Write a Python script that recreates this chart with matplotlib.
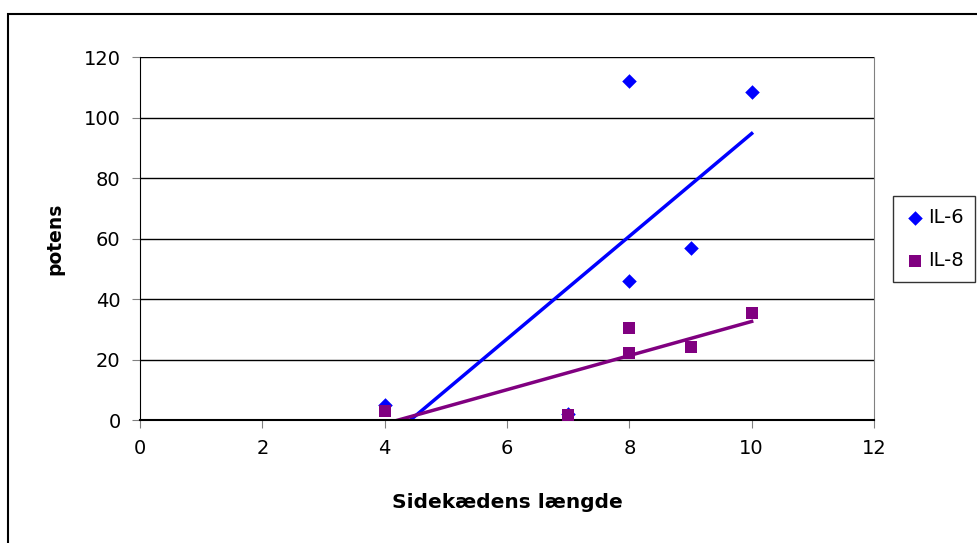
import numpy as np
import matplotlib
matplotlib.use('Agg')
import matplotlib.pyplot as plt
from matplotlib.patches import Rectangle

# data
chain_len = [4, 7, 8, 8, 9, 10]
il6 = [5, 2, 112, 46, 57, 108.5]
il8 = [3, 1.5, 30.5, 22, 24, 35.5]

x_ticks = [0, 2, 4, 6, 8, 10, 12]
y_ticks = [0, 20, 40, 60, 80, 100, 120]

blue = '#0000FF'
purple = '#800080'

plt.rcParams['font.family'] = ['DejaVu Sans']

fig = plt.figure(figsize=(9.77, 5.43), dpi=100)
ax = fig.add_axes([140/977, 1 - 420/543, (874 - 140)/977, (420 - 57)/543])

# outer chart frame
fig.patches.append(Rectangle((8/977, -0.1), 1.2, (543 - 14)/543 + 0.1, transform=fig.transFigure,
                             fill=False, edgecolor='black', linewidth=1.5))

# linear trendlines
xs = np.array([min(chain_len), max(chain_len)])
for ys, col in [(il6, blue), (il8, purple)]:
    k, m = np.polyfit(chain_len, ys, 1)
    ax.plot(xs, k*xs + m, color=col, linewidth=2.5, zorder=2)

ax.scatter(chain_len, il6, marker='D', s=55, color=blue, label='IL-6', zorder=3, linewidths=0)
ax.scatter(chain_len, il8, marker='s', s=85, color=purple, label='IL-8', zorder=4, linewidths=0)

ax.set_xlim(0, 12)
ax.set_ylim(0, 120)
ax.set_xticks(x_ticks)
ax.set_yticks(y_ticks)
ax.yaxis.grid(True, color='black', linewidth=1)
ax.set_axisbelow(True)

ax.spines['top'].set_visible(False)
ax.spines['right'].set_color('#808080')
ax.spines['left'].set_color('black')
ax.spines['bottom'].set_color('black')
ax.spines['bottom'].set_linewidth(1.5)
ax.tick_params(axis='both', direction='out', length=6, color='#808080', labelsize=14)
ax.tick_params(axis='y', pad=8)
ax.tick_params(axis='x', pad=8)

ax.set_xlabel('Sidekædens længde', fontsize=14.5, fontweight='bold', labelpad=25)
ax.set_ylabel('potens', fontsize=13.5, fontweight='bold', labelpad=14)

leg = ax.legend(loc='upper left', bbox_to_anchor=(893/977, 1 - 196/543), bbox_transform=fig.transFigure,
                frameon=True, fancybox=False, edgecolor='black', fontsize=14,
                handletextpad=0.1, handlelength=1.1, borderpad=0.6, labelspacing=1.25, borderaxespad=0)
leg.get_frame().set_linewidth(1)

fig.savefig('out.png', dpi=100)
